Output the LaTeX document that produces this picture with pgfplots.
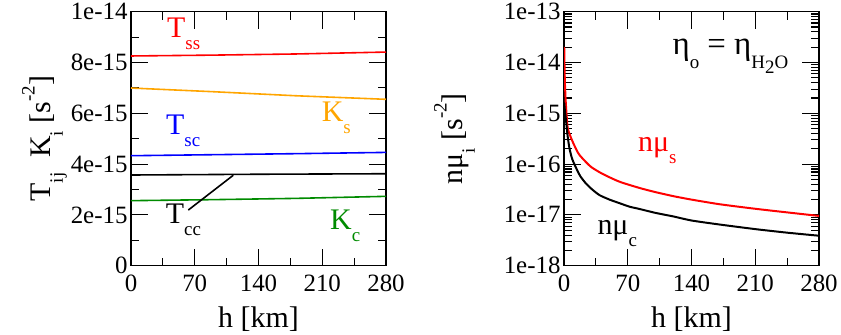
\documentclass[border=0pt]{standalone}
\usepackage{pgfplots}
\pgfplotsset{compat=1.18}
\usepackage{fontspec}
\setmainfont{Liberation Serif}
\definecolor{gorange}{RGB}{255,165,0}
\definecolor{ggreen}{RGB}{0,139,0}
\newcommand{\sub}[1]{\raisebox{-0.4em}{\fontsize{19}{19}\selectfont #1}}
\newcommand{\super}[1]{\raisebox{0.55em}{\fontsize{19}{19}\selectfont #1}}
\pgfplotsset{
  common/.style={
    scale only axis, width=255bp, height=254bp,
    xmin=0, xmax=280, xtick={0,70,140,210,280}, minor xtick={35,105,175,245},
    axis line style={line width=1.3pt},
    major tick length=17bp, minor tick length=8bp,
    every tick/.style={black, line width=1.1pt},
    tick label style={font=\rmfamily\fontsize{25}{25}\selectfont},
    xticklabel style={yshift=-6bp},
    label style={font=\rmfamily\fontsize{30}{30}\selectfont},
    xlabel style={yshift=-8bp},
    /pgf/number format/assume math mode=true,
    xlabel={h [km]},
  }
}
\begin{document}
\begin{tikzpicture}
\begin{axis}[common, at={(0,0)}, anchor=south west,
  ymin=0, ymax=1e-14, scaled y ticks=false,
  ytick={0,2e-15,4e-15,6e-15,8e-15,1e-14},
  yticklabels={0,2e-15,4e-15,6e-15,8e-15,1e-14},
  minor ytick={1e-15,3e-15,5e-15,7e-15,9e-15},
  ylabel style={yshift=-3bp},
  ylabel={T\sub{ij}\ \ K\sub{i}\ [s\super{-2}]}]
\addplot[red, line width=1.6pt] coordinates {(0,8.256e-15) (90,8.29e-15) (181,8.335e-15) (280,8.41e-15)};
\addplot[gorange, line width=1.6pt] coordinates {(0,6.995e-15) (90,6.85e-15) (181,6.69e-15) (280,6.55e-15)};
\addplot[blue, line width=1.6pt] coordinates {(0,4.33e-15) (90,4.37e-15) (181,4.41e-15) (280,4.46e-15)};
\addplot[black, line width=1.6pt] coordinates {(0,3.57e-15) (140,3.60e-15) (280,3.62e-15)};
\addplot[ggreen, line width=1.6pt] coordinates {(0,2.56e-15) (90,2.60e-15) (181,2.65e-15) (280,2.73e-15)};
\addplot[black, line width=1.6pt, forget plot] coordinates {(62.9,2.19e-15) (112.3,3.56e-15)};
\node[anchor=base west, text=red, font=\fontsize{30}{30}\selectfont, inner sep=0] at (axis cs:39.5,8.98e-15) {T\sub{ss}};
\node[anchor=base west, text=blue, font=\fontsize{30}{30}\selectfont, inner sep=0] at (axis cs:38.4,5.16e-15) {T\sub{sc}};
\node[anchor=base west, text=gorange, font=\fontsize{30}{30}\selectfont, inner sep=0] at (axis cs:209.4,5.67e-15) {K\sub{s}};
\node[anchor=base west, text=ggreen, font=\fontsize{30}{30}\selectfont, inner sep=0] at (axis cs:218.5,1.41e-15) {K\sub{c}};
\node[anchor=base west, text=black, font=\fontsize{30}{30}\selectfont, inner sep=0] at (axis cs:38.1,1.67e-15) {T\sub{cc}};
\end{axis}
\begin{axis}[common, at={(433bp,0)}, anchor=south west,
  ymode=log, ymin=1e-18, ymax=1e-13,
  ytick={1e-18,1e-17,1e-16,1e-15,1e-14,1e-13},
  yticklabels={1e-18,1e-17,1e-16,1e-15,1e-14,1e-13},
  ylabel style={yshift=22bp},
  ylabel={nμ\sub{i} [s\super{-2}]}]
\addplot[red, line width=2pt, smooth, tension=0.4] coordinates {
(0.25,2.04e-14) (0.5,1.0e-14) (1,3.98e-15) (2,1.58e-15) (4,5.25e-16) (7,3.55e-16)
(10,2.63e-16) (14,1.86e-16) (17,1.51e-16) (24,1.10e-16) (30,8.71e-17) (40,6.76e-17)
(50,5.50e-17) (60,4.57e-17) (70,3.98e-17) (85,3.31e-17) (100,2.82e-17) (120,2.34e-17)
(140,2.00e-17) (171,1.62e-17) (210,1.32e-17) (245,1.12e-17) (280,9.55e-18)};
\addplot[black, line width=2pt, smooth, tension=0.4] coordinates {
(0.3,1.58e-15) (1,1.12e-15) (2.4,6.76e-16) (4,3.55e-16) (6,2.04e-16) (9,1.26e-16)
(13.4,8.32e-17) (18,5.75e-17) (24,4.17e-17) (31,3.16e-17) (39,2.45e-17) (50,2.00e-17)
(61,1.70e-17) (72,1.45e-17) (82,1.32e-17) (100,1.10e-17) (120,9.33e-18) (140,7.76e-18)
(171,6.46e-18) (210,5.25e-18) (245,4.47e-18) (280,3.89e-18)};
\node[anchor=base west, text=red, font=\fontsize{30}{30}\selectfont, inner sep=0] at (axis cs:81.3,1.74e-16) {nμ\sub{s}};
\node[anchor=base west, text=black, font=\fontsize{30}{30}\selectfont, inner sep=0] at (axis cs:36.6,4.07e-18) {nμ\sub{c}};
\node[anchor=base west, text=black, font=\fontsize{30}{30}\selectfont, inner sep=0] at (axis cs:119,1.41e-14) {\fontsize{33}{33}\selectfont η\sub{o} = η\sub{H\raisebox{-0.3em}{2}O}};
\end{axis}
\path (-131bp,-63bp) rectangle (710bp,264bp);
\end{tikzpicture}
\end{document}
